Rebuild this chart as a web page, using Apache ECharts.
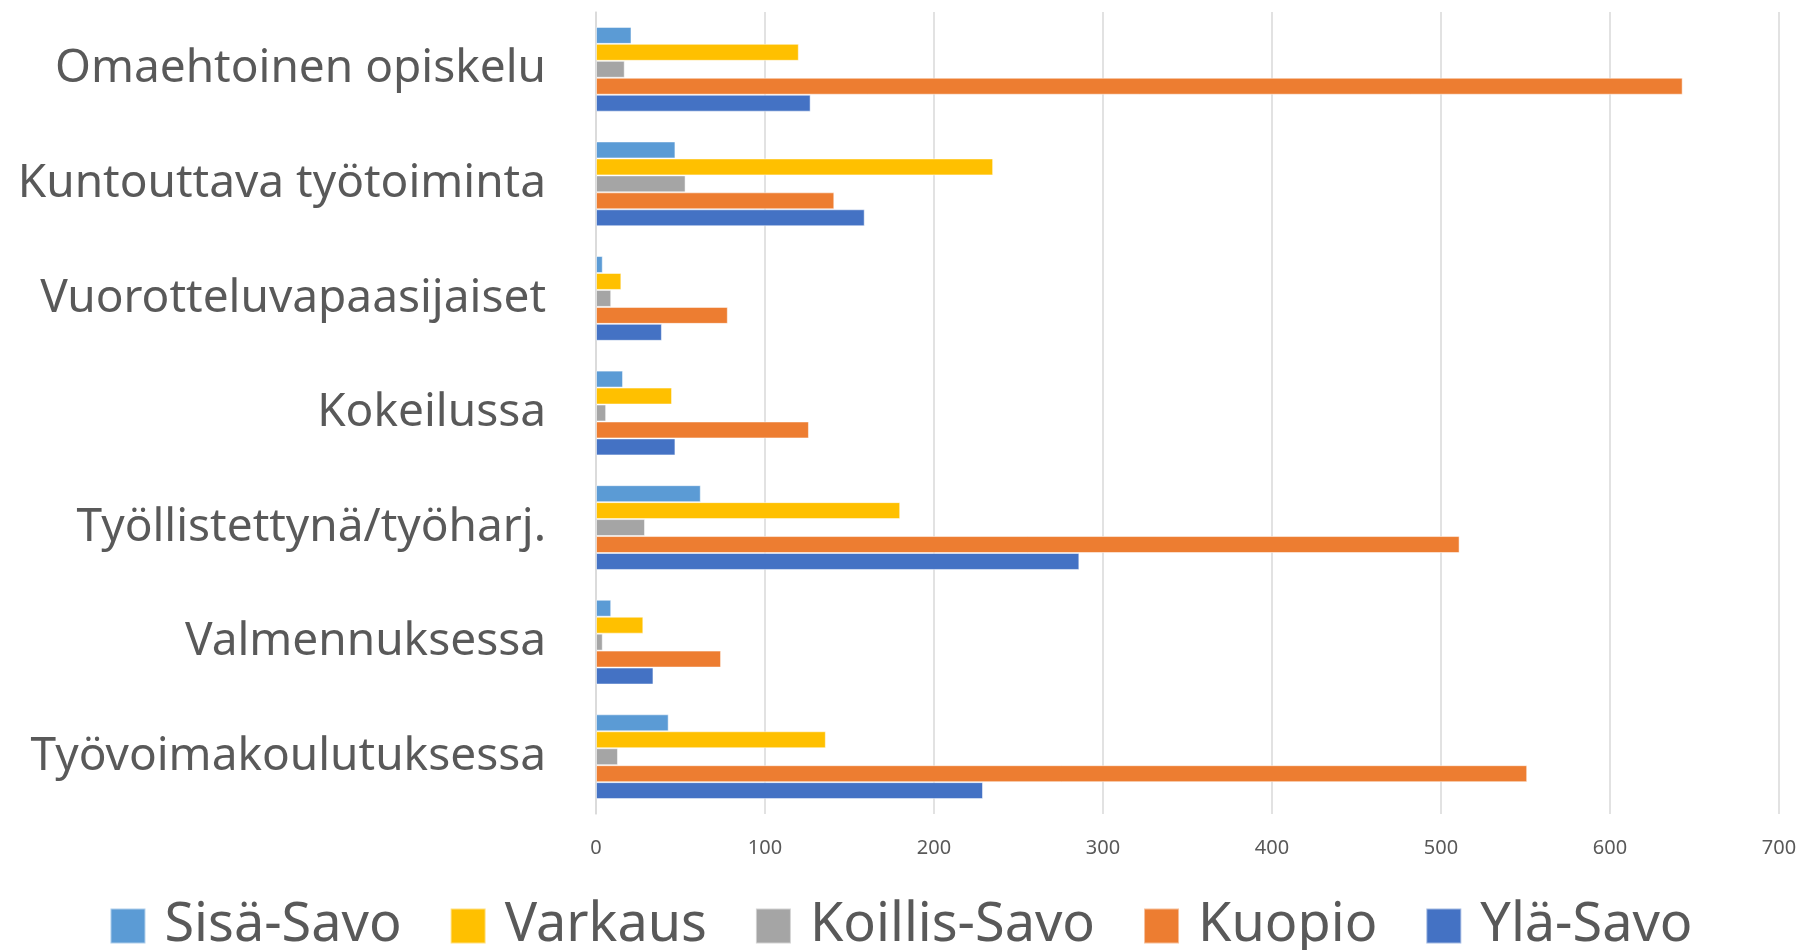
<!DOCTYPE html>
<html>
<head>
<meta charset="utf-8">
<script src="https://cdn.jsdelivr.net/npm/echarts@6/dist/echarts.min.js"></script>
<style>
  html, body { margin: 0; padding: 0; background: #fff; }
  #chart { width: 1802px; height: 950px; }
</style>
</head>
<body>
<div id="chart"></div>
<script>
// categories top to bottom
const categories = [
  'Omaehtoinen opiskelu',
  'Kuntouttava työtoiminta',
  'Vuorotteluvapaasijaiset',
  'Kokeilussa',
  'Työllistettynä/työharj.',
  'Valmennuksessa',
  'Työvoimakoulutuksessa'
]
const sisaSavo = [21, 47, 4, 16, 62, 9, 43]
const varkaus = [120, 235, 15, 45, 180, 28, 136]
const koillisSavo = [17, 53, 9, 6, 29, 4, 13]
const kuopio = [643, 141, 78, 126, 511, 74, 551]
const ylaSavo = [127, 159, 39, 47, 286, 34, 229]
const xTicks = [0, 100, 200, 300, 400, 500, 600, 700]

const seriesDefs = [
  { name: 'Sisä-Savo', data: sisaSavo, color: '#5B9BD5' },
  { name: 'Varkaus', data: varkaus, color: '#FFC000' },
  { name: 'Koillis-Savo', data: koillisSavo, color: '#A5A5A5' },
  { name: 'Kuopio', data: kuopio, color: '#ED7D31' },
  { name: 'Ylä-Savo', data: ylaSavo, color: '#4472C4' }
]

const chart = echarts.init(document.getElementById('chart'))
chart.setOption({
  backgroundColor: '#fff',
  animation: false,
  textStyle: { fontFamily: 'Noto Sans' },
  legend: {
    data: seriesDefs.map(s => s.name),
    bottom: -8,
    left: 'center',
    itemWidth: 35,
    itemHeight: 35,
    itemGap: 48,
    icon: 'rect',
    textStyle: { color: '#595959', fontSize: 54, padding: [0, 0, 0, 14] }
  },
  grid: {
    left: 596,
    right: 23,
    top: 12,
    bottom: 136
  },
  xAxis: {
    type: 'value',
    min: xTicks[0],
    max: xTicks[xTicks.length - 1],
    interval: 100,
    axisLine: { show: false },
    axisTick: { show: false },
    splitLine: { lineStyle: { color: '#D9D9D9', width: 1.5 } },
    axisLabel: { color: '#595959', fontSize: 20, margin: 24 }
  },
  yAxis: {
    type: 'category',
    data: categories,
    inverse: true,
    axisLine: { show: true, lineStyle: { color: '#D9D9D9', width: 1.5 } },
    axisTick: { show: false },
    axisLabel: { color: '#595959', fontSize: 46, margin: 50 }
  },
  series: seriesDefs.map(s => ({
    name: s.name,
    type: 'bar',
    data: s.data,
    barGap: '0%',
    barCategoryGap: '26%',
    itemStyle: { color: s.color, borderColor: 'rgba(255,255,255,0.5)', borderWidth: 1 }
  }))
})
</script>
</body>
</html>
